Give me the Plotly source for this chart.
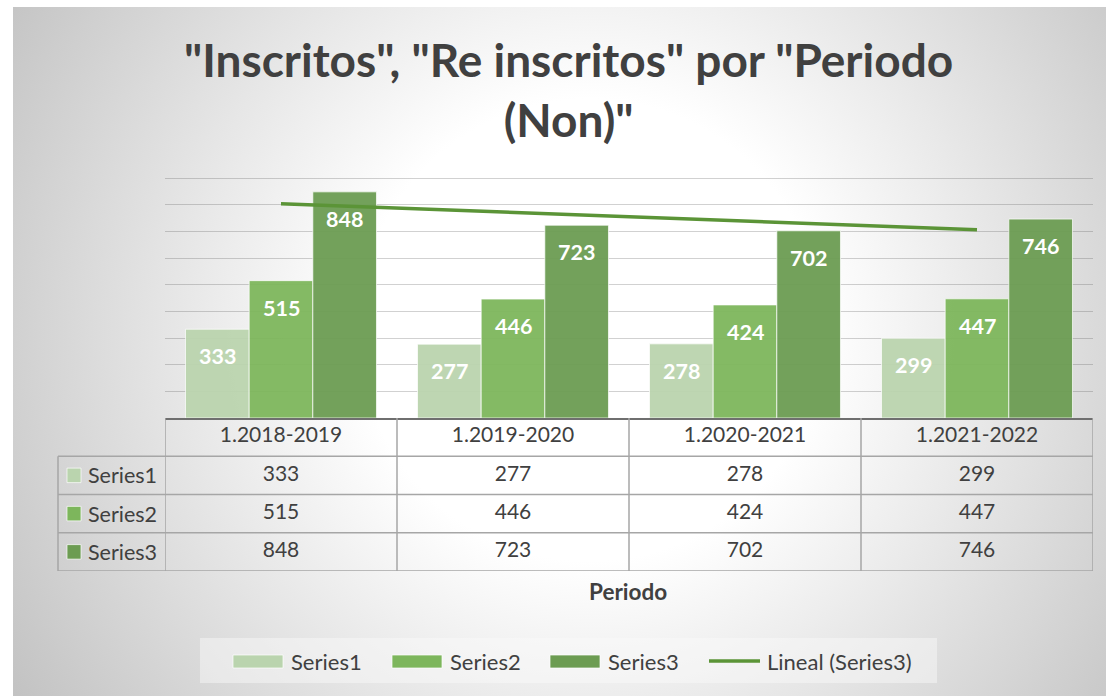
import base64
import numpy as np
import plotly.graph_objects as go

# ---------------- data ----------------
categories = ["1.2018-2019", "1.2019-2020", "1.2020-2021", "1.2021-2022"]
series_names = ["Series1", "Series2", "Series3"]
series1 = [333, 277, 278, 299]
series2 = [515, 446, 424, 447]
series3 = [848, 723, 702, 746]
trend_name = "Lineal (Series3)"
title_text = '"Inscritos", "Re inscritos" por "Periodo<br>(Non)"'
axis_title = "Periodo"

# ---------------- style ----------------
W, H = 1106, 696
FONT = "Lato"
TXT = "#404040"
colors = ["rgba(186,212,174,0.95)", "rgba(125,182,92,0.95)", "rgba(108,156,82,0.95)"]
solid = ["#bad4ae", "#7db65c", "#6c9c52"]
trend_color = "#5b9437"
bargap = 0.177
TABLE_SIZE = 21
LEGEND_SIZE = 22
Y_MAX = 910


def px(x):
    return x / W


def py(y):
    return 1 - y / H


x_dom = [px(165), px(1093)]
scale = (418 - 178) / 900.0
y_dom = [py(418), py(418 - Y_MAX * scale)]
t_dom = [py(571), py(418)]

all_series = [series1, series2, series3]

fig = go.Figure()

for name, vals, col in zip(series_names, all_series, colors):
    fig.add_trace(go.Bar(
        x=categories, y=vals, name=name,
        marker=dict(color=col, line=dict(color="rgba(255,255,255,0.7)", width=1)),
        showlegend=False, hoverinfo="x+y",
    ))

# linear trend on Series3
idx = np.arange(1, len(series3) + 1)
slope, intercept = np.polyfit(idx, series3, 1)
trend_vals = [slope * idx[0] + intercept, slope * idx[-1] + intercept]
fig.add_trace(go.Scatter(
    x=[categories[0], categories[-1]], y=trend_vals, mode="lines",
    line=dict(color=trend_color, width=3.5), name=trend_name, showlegend=False,
))

# data table text
fig.add_trace(go.Scatter(
    x=categories, y=[0] * len(categories), mode="text", text=categories,
    textfont=dict(family=FONT, size=TABLE_SIZE, color=TXT), xaxis="x", yaxis="y2",
    showlegend=False, hoverinfo="skip",
))
for r, vals in enumerate(all_series, start=1):
    fig.add_trace(go.Scatter(
        x=categories, y=[r] * len(categories), mode="text",
        text=[str(v) for v in vals],
        textfont=dict(family=FONT, size=TABLE_SIZE, color=TXT), xaxis="x", yaxis="y2",
        showlegend=False, hoverinfo="skip",
    ))

shapes = []
annotations = []

# table grid lines
line_style = dict(color="#a6a6a6", width=1.5)
for b in [0.5, 1.5, 2.5, 3.5]:
    shapes.append(dict(type="line", xref="paper", yref="y2", x0=px(58), x1=x_dom[1],
                       y0=b, y1=b, line=line_style))
for i in range(len(categories) + 1):
    shapes.append(dict(type="line", xref="x", yref="y2", x0=i - 0.5, x1=i - 0.5,
                       y0=-0.5, y1=3.5, line=line_style))
shapes.append(dict(type="line", xref="paper", yref="y2", x0=px(58), x1=px(58),
                   y0=0.5, y1=3.5, line=line_style))

# row labels with colour keys
for r, (name, col) in enumerate(zip(series_names, solid), start=1):
    shapes.append(dict(type="rect", xref="paper", yref="y2",
                       x0=px(67), x1=px(81), y0=r - 0.19, y1=r + 0.19,
                       fillcolor=col, line=dict(color="rgba(255,255,255,0.7)", width=1)))
    annotations.append(dict(x=px(86), y=r, xref="paper", yref="y2", text=name,
                            showarrow=False, xanchor="left", yanchor="middle",
                            font=dict(family=FONT, size=TABLE_SIZE + 0.5, color=TXT)))

# bar value labels
cat_px = (1093 - 165) / len(categories)
bar_px = cat_px * (1 - bargap) / len(all_series)
for si, vals in enumerate(all_series):
    for c, v in zip(categories, vals):
        annotations.append(dict(x=c, y=v, xref="x", yref="y", text=str(v),
                                showarrow=False, xshift=(si - 1) * bar_px, yshift=-27,
                                font=dict(family=FONT, size=21.5, color="white", weight="bold")))

# title
annotations.append(dict(x=px(568), y=py(89), xref="paper", yref="paper", text=title_text,
                        showarrow=False, xanchor="center", yanchor="middle",
                        font=dict(family=FONT, size=46, color=TXT, weight="bold")))
# axis title
annotations.append(dict(x=px(628), y=py(591), xref="paper", yref="paper", text=axis_title,
                        showarrow=False, xanchor="center", yanchor="middle",
                        font=dict(family=FONT, size=22.5, color=TXT, weight="bold")))

# manual legend
shapes.append(dict(type="rect", xref="paper", yref="paper", x0=px(200), x1=px(937),
                   y0=py(683), y1=py(638), fillcolor="rgba(250,250,250,0.45)",
                   line=dict(width=0), layer="below"))
legend_items = [(233, "bar", 0), (392, "bar", 1), (550, "bar", 2), (709, "line", None)]
legend_labels = series_names + [trend_name]
for (x0, kind, k), label in zip(legend_items, legend_labels):
    if kind == "bar":
        shapes.append(dict(type="rect", xref="paper", yref="paper", x0=px(x0), x1=px(x0 + 50),
                           y0=py(668), y1=py(655), fillcolor=solid[k],
                           line=dict(color="rgba(255,255,255,0.7)", width=1)))
    else:
        shapes.append(dict(type="line", xref="paper", yref="paper", x0=px(x0), x1=px(x0 + 51),
                           y0=py(661), y1=py(661), line=dict(color=trend_color, width=3.5)))
    annotations.append(dict(x=px(x0 + 56), y=py(661), xref="paper", yref="paper", text=label,
                            showarrow=False, xanchor="left", yanchor="middle",
                            font=dict(family=FONT, size=LEGEND_SIZE, color=TXT)))

# gradient background
bw, bh = W - 13, H - 7
svg = (
    f"<svg xmlns='http://www.w3.org/2000/svg' width='{bw}' height='{bh}' viewBox='0 0 {bw} {bh}' preserveAspectRatio='none'>"
    f"<defs><radialGradient id='g' gradientUnits='userSpaceOnUse' cx='{590-13}' cy='{330-7}' r='700'>"
    "<stop offset='0' stop-color='#ffffff'/><stop offset='0.33' stop-color='#ffffff'/>"
    "<stop offset='1' stop-color='#c0c0c0'/></radialGradient></defs>"
    "<rect x='0' y='0' width='100%' height='100%' fill='url(#g)'/></svg>"
)
src = "data:image/svg+xml;base64," + base64.b64encode(svg.encode()).decode()

fig.update_layout(
    width=W, height=H,
    margin=dict(l=0, r=0, t=0, b=0),
    paper_bgcolor="white", plot_bgcolor="rgba(0,0,0,0)",
    barmode="group", bargap=bargap, bargroupgap=0,
    font=dict(family=FONT, color=TXT),
    showlegend=False,
    xaxis=dict(domain=x_dom, anchor="y", type="category", range=[-0.5, 3.5],
               showticklabels=False, ticks="", showgrid=False, zeroline=False,
               showline=True, linecolor="#6f6f6f", linewidth=1.5, fixedrange=True),
    yaxis=dict(domain=y_dom, anchor="x", range=[0, Y_MAX], dtick=100,
               showticklabels=False, ticks="", showgrid=True,
               gridcolor="rgba(90,90,90,0.28)", gridwidth=1.2, zeroline=False,
               showline=False, fixedrange=True),
    yaxis2=dict(domain=t_dom, anchor="x", range=[3.5, -0.5], visible=False,
                fixedrange=True),
    shapes=shapes,
    annotations=annotations,
    images=[dict(source=src, xref="paper", yref="paper", x=px(13), y=py(7),
                 sizex=bw / W, sizey=bh / H, xanchor="left", yanchor="top",
                 sizing="stretch", layer="below")],
)

fig.write_html(
    "out.html",
    config={"displayModeBar": False},
    post_script="document.body.style.margin='0';document.body.style.overflow='hidden';",
)
